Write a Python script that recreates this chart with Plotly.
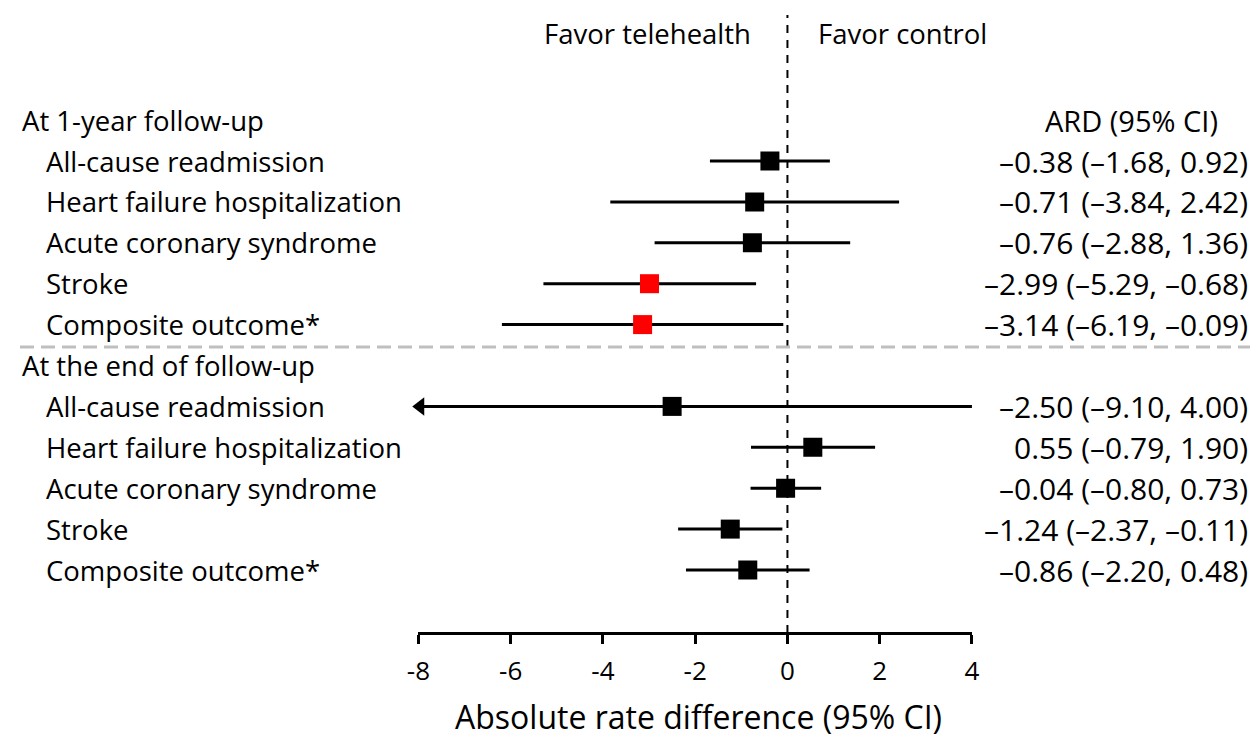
import plotly.graph_objects as go

# ---- data ----
outcomes = ["All-cause readmission", "Heart failure hospitalization",
            "Acute coronary syndrome", "Stroke", "Composite outcome*"]
groups = ["At 1-year follow-up", "At the end of follow-up"]

est_1y = [-0.38, -0.71, -0.76, -2.99, -3.14]
lo_1y = [-1.68, -3.84, -2.88, -5.29, -6.19]
hi_1y = [0.92, 2.42, 1.36, -0.68, -0.09]
col_1y = ["black", "black", "black", "red", "red"]

est_end = [-2.50, 0.55, -0.04, -1.24, -0.86]
lo_end = [-9.10, -0.79, -0.80, -2.37, -2.20]
hi_end = [4.00, 1.90, 0.73, -0.11, 0.48]
col_end = ["black", "black", "black", "black", "black"]

tick_vals = [-8, -6, -4, -2, 0, 2, 4]
tick_text = ["-8", "-6", "-4", "-2", "0", "2", "4"]
x_title = "Absolute rate difference (95% CI)"
col_header = "ARD (95% CI)"
favor_left = "Favor telehealth"
favor_right = "Favor control"

XMIN, XMAX = -8, 4
OFF = 8                          # page body margin
W, H = 1258 - OFF, 740 - OFF     # figure size
FONT = "Open Sans"
FS_LABEL = 27.5
FS_HEAD = 29
FS_VALUE = 30

def xp(p):   # target picture pixel -> paper x
    fx = (p - 20) / 0.983
    return min(max(fx / W, 0.0), 1.0)

ROW1_PX = 161.0
ROW_PX = 40.9
def px_to_row(p):   # page pixel -> row units
    return (p - ROW1_PX) / ROW_PX + 1

rows_1y = [1, 2, 3, 4, 5]
rows_end = [7, 8, 9, 10, 11]
header_rows = [0, 6]

fig = go.Figure()

def add_group(est, lo, hi, cols, rows):
    lo_c = [max(l, XMIN) for l in lo]
    hi_c = [min(h, XMAX) for h in hi]
    fig.add_trace(go.Scatter(
        x=est, y=rows, mode="markers",
        marker=dict(symbol="square", size=19, color=cols),
        error_x=dict(type="data", symmetric=False,
                     array=[h - e for h, e in zip(hi_c, est)],
                     arrayminus=[e - l for l, e in zip(lo_c, est)],
                     color="black", thickness=3, width=0),
        showlegend=False, hoverinfo="skip"))
    ax = [XMIN for l in lo if l < XMIN]
    ay = [r for l, r in zip(lo, rows) if l < XMIN]
    if ax:
        fig.add_trace(go.Scatter(
            x=[a + 0.04 for a in ax], y=ay, mode="markers",
            marker=dict(symbol="triangle-left", size=16, color="black"),
            showlegend=False, hoverinfo="skip", cliponaxis=False))

add_group(est_1y, lo_1y, hi_1y, col_1y, rows_1y)
add_group(est_end, lo_end, hi_end, col_end, rows_end)

def fmt(v):
    return f"{v:.2f}".replace("-", "\u2013")

lab_font = dict(size=FS_LABEL)
val_font = dict(size=FS_VALUE)

ann = []
for g, r in zip(groups, header_rows):
    ann.append(dict(x=xp(14), y=r, xref="paper", yref="y", text=g, font=lab_font,
                    xanchor="left", yanchor="middle", showarrow=False))
for rows in (rows_1y, rows_end):
    for name, r in zip(outcomes, rows):
        ann.append(dict(x=xp(44), y=r, xref="paper", yref="y", text=name, font=lab_font,
                        xanchor="left", yanchor="middle", showarrow=False))
ann.append(dict(x=xp(1130), y=header_rows[0], xref="paper", yref="y",
                font=dict(size=FS_HEAD),
                text=col_header, xanchor="center", yanchor="middle", showarrow=False))
for est, lo, hi, rows in ((est_1y, lo_1y, hi_1y, rows_1y), (est_end, lo_end, hi_end, rows_end)):
    for e, l, h, r in zip(est, lo, hi, rows):
        ann.append(dict(x=xp(1252), y=r, xref="paper", yref="y", font=val_font,
                        text=f"{fmt(e)} ({fmt(l)}, {fmt(h)})",
                        xanchor="right", yanchor="middle", showarrow=False))
ann.append(dict(x=xp(752), y=px_to_row(33), xref="paper", yref="y", text=favor_left,
                font=lab_font, xanchor="right", yanchor="middle", showarrow=False))
ann.append(dict(x=xp(815), y=px_to_row(33), xref="paper", yref="y", text=favor_right,
                font=lab_font, xanchor="left", yanchor="middle", showarrow=False))
ann.append(dict(x=xp(698), y=px_to_row(716), xref="paper", yref="y",
                text=x_title, xanchor="center", yanchor="middle", showarrow=False,
                font=dict(size=32)))

AXIS_PX = 633
shapes = [
    dict(type="line", xref="x", yref="paper", x0=0, x1=0,
         y0=1 - (AXIS_PX - OFF) / H, y1=1 - (15 - OFF) / H,
         line=dict(color="black", width=2, dash="8px,7px"), layer="below"),
    dict(type="line", xref="paper", yref="y", x0=0, x1=1,
         y0=px_to_row(347), y1=px_to_row(347),
         line=dict(color="#bfbfbf", width=3, dash="14px,7px")),
]

fig.update_layout(
    width=W, height=H,
    margin=dict(l=0, r=0, t=0, b=0),
    paper_bgcolor="white", plot_bgcolor="white",
    font=dict(family=FONT, size=FS_LABEL, color="black"),
    annotations=ann, shapes=shapes,
    xaxis=dict(domain=[xp(418), xp(971)], range=[XMIN, XMAX],
               tickvals=tick_vals, ticktext=tick_text,
               showgrid=False, zeroline=False,
               showline=True, linecolor="black", linewidth=2.5,
               ticks="outside", ticklen=9, tickwidth=2.5, tickcolor="black",
               ticklabelstandoff=5,
               anchor="free", position=1 - (AXIS_PX - OFF) / H,
               tickfont=dict(size=26), fixedrange=True),
    yaxis=dict(domain=[0, 1], range=[px_to_row(H + OFF), px_to_row(OFF)],
               visible=False, fixedrange=True),
)

fig.write_html("out.html")
